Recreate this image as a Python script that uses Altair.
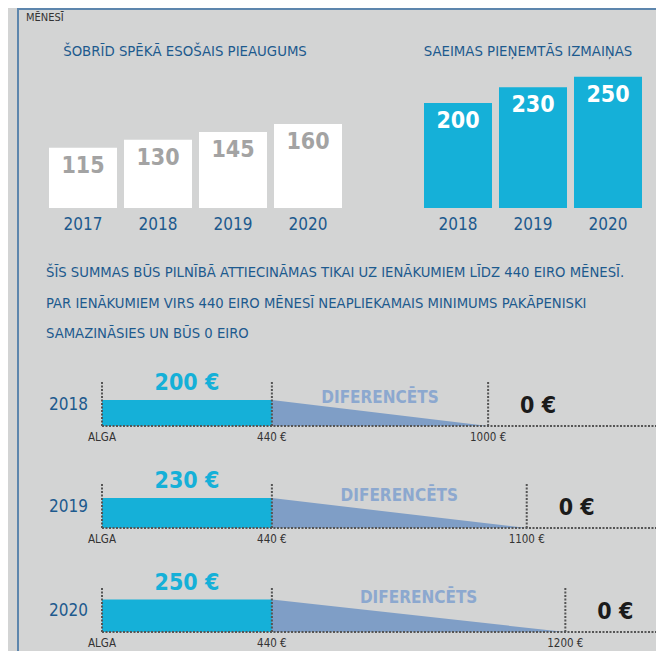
import altair as alt
import pandas as pd

# ---------------- data ----------------
UNIT_LABEL = "MĒNESĪ"
TITLE_NOW = "ŠOBRĪD SPĒKĀ ESOŠAIS PIEAUGUMS"
TITLE_NEW = "SAEIMAS PIEŅEMTĀS IZMAIŅAS"

NOW_YEARS = ["2017", "2018", "2019", "2020"]
NOW_VALUES = [115, 130, 145, 160]

NEW_YEARS = ["2018", "2019", "2020"]
NEW_VALUES = [200, 230, 250]

PARAGRAPH = [
    "ŠĪS SUMMAS BŪS PILNĪBĀ ATTIECINĀMAS TIKAI UZ IENĀKUMIEM LĪDZ 440 EIRO MĒNESĪ.",
    "PAR IENĀKUMIEM VIRS 440 EIRO MĒNESĪ NEAPLIEKAMAIS MINIMUMS PAKĀPENISKI",
    "SAMAZINĀSIES UN BŪS 0 EIRO",
]

ROW_YEARS = ["2018", "2019", "2020"]
ROW_MINIMUM = [200, 230, 250]
FULL_UNTIL = 440
ROW_ZERO_FROM = [1000, 1100, 1200]
START_LABEL = "ALGA"
TAPER_LABEL = "DIFERENCĒTS"
ZERO_LABEL = "0 €"

# ---------------- style / layout ----------------
FONT = "Liberation Sans Narrow, DejaVu Sans Condensed, Roboto Condensed, Roboto, sans-serif"
BG = "#d3d4d4"
NAVY = "#1d5a8e"
CYAN = "#15b0d8"
STEEL = "#7f9ec6"
STEEL_TXT = "#8ca8cf"
GREY_NUM = "#a3a3a3"
DOT = "#555555"
FRAME = "#5d86ad"
W, H = 648, 643

DASH = [2, 1.5]

one = pd.DataFrame({"k": [0]})

layers = []

# frame
layers.append(alt.Chart(one).mark_rule(color=FRAME, strokeWidth=2).encode(
    x=alt.value(10), y=alt.value(0), y2=alt.value(H)))
layers.append(alt.Chart(one).mark_rule(color=FRAME, strokeWidth=2).encode(
    x=alt.value(10), x2=alt.value(W), y=alt.value(1)))

# headings
layers.append(alt.Chart(pd.DataFrame({"t": [UNIT_LABEL]})).mark_text(
    font=FONT, fontSize=11, color="#333333", align="left", baseline="middle").encode(
    text="t:N", x=alt.value(18), y=alt.value(10)))
layers.append(alt.Chart(pd.DataFrame({"t": [TITLE_NOW]})).mark_text(
    font=FONT, fontSize=14.8, color=NAVY, align="center", baseline="middle").encode(
    text="t:N", x=alt.value(177), y=alt.value(44)))
layers.append(alt.Chart(pd.DataFrame({"t": [TITLE_NEW]})).mark_text(
    font=FONT, fontSize=14.8, color=NAVY, align="center", baseline="middle").encode(
    text="t:N", x=alt.value(520), y=alt.value(44)))

# top bar charts
y_top = alt.Scale(domain=[0, 300], range=[200, 42.5])


def top_bars(years, values, xrange, bar_color, num_color):
    df = pd.DataFrame({"year": years, "value": values})
    xs = alt.Scale(domain=years, range=xrange, paddingInner=0.0933, paddingOuter=0.0467)
    X = alt.X("year:N", scale=xs, axis=None)
    bars = alt.Chart(df).mark_bar(color=bar_color).encode(
        x=X, y=alt.Y("value:Q", scale=y_top, axis=None))
    nums = alt.Chart(df).mark_text(font=FONT, fontSize=23, fontWeight="bold",
                                   color=num_color, baseline="top", dy=7).encode(
        x=X, y=alt.Y("value:Q", scale=y_top, axis=None), text="value:Q")
    yrs = alt.Chart(df).mark_text(font=FONT, fontSize=17, color=NAVY,
                                  baseline="top", dy=9).encode(
        x=X, y=alt.YDatum(0, type="quantitative", scale=y_top, axis=None), text="year:N")
    return [bars, nums, yrs]


layers += top_bars(NOW_YEARS, NOW_VALUES, [37.5, 337.5], "white", GREY_NUM)
layers += top_bars(NEW_YEARS, NEW_VALUES, [412.5, 637.5], CYAN, "white")

# paragraph
layers.append(alt.Chart(one).mark_text(
    text=PARAGRAPH, font=FONT, fontSize=14.7, color=NAVY, align="left",
    baseline="middle", lineHeight=30.5).encode(x=alt.value(38), y=alt.value(265)))

# bottom rows
ROW_BASE = [418, 520, 624]
INCOME_MAX = 1440
LINE_TOP = 340
PX_PER_EUR = 0.13
x_inc = alt.Scale(domain=[0, INCOME_MAX], range=[94, 650])


def row_layers(i):
    base = ROW_BASE[i]
    ys = alt.Scale(domain=[0, LINE_TOP], range=[base, base - PX_PER_EUR * LINE_TOP])
    yr, v, z = ROW_YEARS[i], ROW_MINIMUM[i], ROW_ZERO_FROM[i]
    full = pd.DataFrame({"start": [0], "limit": [FULL_UNTIL], "value": [v],
                         "label": [f"{v} €"], "mid": [FULL_UNTIL / 2], "year": [yr]})
    taper = pd.DataFrame({"income": [FULL_UNTIL, z], "minimum": [v, 0]})
    marks = pd.DataFrame({"income": [0, FULL_UNTIL, z],
                          "label": [START_LABEL, f"{FULL_UNTIL} €", f"{z} €"]})
    info = pd.DataFrame({"zero_from": [z], "mid": [(FULL_UNTIL + z) / 2], "value": [v],
                         "taper": [TAPER_LABEL], "zero": [ZERO_LABEL]})

    def X(f):
        return alt.X(f, scale=x_inc, axis=None)

    def Y(f):
        return alt.Y(f, scale=ys, axis=None)

    def Y0():
        return alt.YDatum(0, type="quantitative", scale=ys, axis=None)

    def X0():
        return alt.XDatum(0, type="quantitative", scale=x_inc, axis=None)

    out = []
    out.append(alt.Chart(taper).mark_area(color=STEEL).encode(
        x=X("income:Q"), y=Y("minimum:Q")))
    out.append(alt.Chart(full).mark_rect(color=CYAN).encode(
        x=X("start:Q"), x2="limit:Q", y=Y("value:Q"), y2=alt.datum(0)))
    out.append(alt.Chart(info).mark_rule(color=DOT, strokeWidth=2, strokeDash=DASH).encode(
        x=X0(), x2=alt.datum(INCOME_MAX), y=Y0()))
    out.append(alt.Chart(marks).mark_rule(color=DOT, strokeWidth=2, strokeDash=DASH).encode(
        x=X("income:Q"), y=Y0(), y2=alt.datum(LINE_TOP)))
    out.append(alt.Chart(marks).mark_text(font=FONT, fontSize=11.5, color="#333333",
                                          baseline="middle", dy=12).encode(
        x=X("income:Q"), y=Y0(), text="label:N"))
    out.append(alt.Chart(full).mark_text(font=FONT, fontSize=17, color=NAVY, align="right",
                                         baseline="middle", dx=-14, dy=-21).encode(
        x=X0(), y=Y0(), text="year:N"))
    out.append(alt.Chart(full).mark_text(font=FONT, fontSize=23, fontWeight="bold", color=CYAN,
                                         baseline="middle", dy=-17).encode(
        x=X("mid:Q"), y=Y("value:Q"), text="label:N"))
    out.append(alt.Chart(info).mark_text(font=FONT, fontSize=17, fontWeight="bold",
                                         color=STEEL_TXT, baseline="alphabetic", dy=3).encode(
        x=X("mid:Q"), y=Y("value:Q"), text="taper:N"))
    out.append(alt.Chart(info).mark_text(font=FONT, fontSize=23, fontWeight="bold",
                                         color="#1b1b1b", baseline="middle", dx=50, dy=-20).encode(
        x=X("zero_from:Q"), y=Y0(), text="zero:N"))
    return out


for i in range(len(ROW_YEARS)):
    layers += row_layers(i)

chart = alt.layer(*layers).resolve_scale(
    x="independent", y="independent"
).properties(
    width=W, height=H, background=BG, padding=0,
    autosize=alt.AutoSizeParams(type="none"),
).configure_view(stroke=None)

chart.save("out.html", embed_options={"renderer": "svg", "actions": False})
